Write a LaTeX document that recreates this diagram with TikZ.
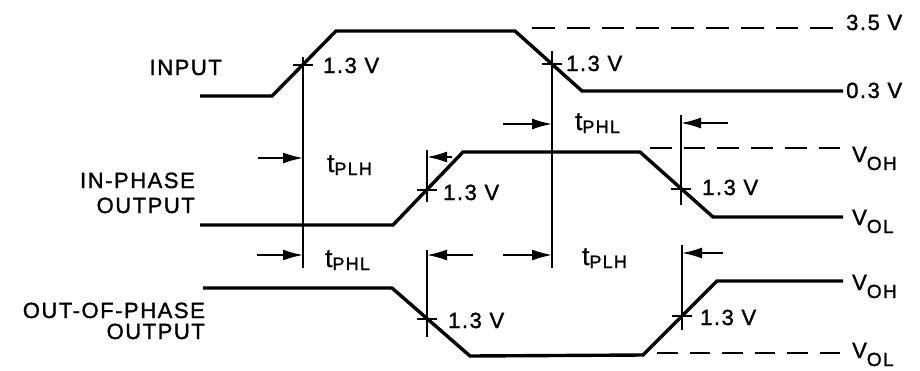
\documentclass[tikz,border=0pt]{standalone}
\usepackage{fontspec}
\setmainfont{Liberation Sans}[LetterSpace=7, FakeBold=1.4]
\usetikzlibrary{arrows.meta}

\newcommand{\tsub}[1]{{\fontsize{26}{26}\selectfont t}\raisebox{-3pt}{\fontsize{18}{18}\selectfont #1}}
\newcommand{\vsub}[1]{V\raisebox{-8pt}{\fontsize{19}{19}\selectfont #1}}

\begin{document}
\begin{tikzpicture}[x=1pt, y=-1pt, font=\fontsize{22}{24}\selectfont, >=Latex,
        wave/.style={line width=3.4pt},
        refl/.style={line width=1.6pt},
        dim/.style={-{Latex[length=20pt,width=11pt]}, line width=1.8pt},
        lvl/.style={line width=1.6pt, dash pattern=on #1 off 12pt},
        lab/.style={inner sep=0pt, anchor=base west},
        sig/.style={inner sep=0pt, anchor=base east}]
        \useasboundingbox (0,0) rectangle (920,370);
        % waveforms
        \draw[wave] (200,96) -- (272,96) -- (336,31) -- (515,31) -- (582,91) -- (843,91);
        \draw[wave] (200,225) -- (393,225) -- (463,152) -- (640,152) -- (713,217) -- (843,217);
        \draw[wave] (203,288) -- (392,288) -- (470,356) -- (643,355) -- (717,281) -- (843,281);
        % reference levels
        \draw[lvl=22.8pt] (532,28) -- (833,28);
        \draw[lvl=21.7pt] (650,148) -- (840,148);
        \draw[lvl=20.5pt] (657,353) -- (840,353);
        % 1.3 V crossings
        \coordinate (ir) at (303,65);
        \coordinate (if) at (552,64);
        \coordinate (pr) at (427,190);
        \coordinate (pf) at (681,189);
        \coordinate (of) at (427,319);
        \coordinate (or) at (682,316);
        \foreach \c in {ir,if,pr,pf,of,or} \draw[refl] ([xshift=-10pt]\c) -- ([xshift=10pt]\c);
        \foreach \c/\t/\b in {ir/57/268, if/51/268, pr/150/202, pf/115/205, of/250/337, or/245/330}
            \draw[refl] (\c |- 0,\t) -- (\c |- 0,\b);
        % delay arrows
        \coordinate (a1) at (258,158);
        \coordinate (a2) at (452,157);
        \coordinate (a3) at (503,124);
        \coordinate (a4) at (728,123);
        \coordinate (a5) at (257,255);
        \coordinate (a6) at (473,255);
        \coordinate (a7) at (503,255);
        \coordinate (a8) at (723,253);
        \draw[dim] (a1) -- (a1 -| ir);
        \draw[dim] (a2) -- (a2 -| pr);
        \draw[dim] (a3) -- (a3 -| if);
        \draw[dim] (a4) -- (a4 -| pf);
        \draw[dim] (a5) -- (a5 -| ir);
        \draw[dim] (a6) -- (a6 -| of);
        \draw[dim] (a7) -- (a7 -| if);
        \draw[dim] (a8) -- (a8 -| or);
        \node[lab] (tplh1) at (327,172) {\tsub{PLH}};
        \node[lab] (tphl1) at (575,130) {\tsub{PHL}};
        \node[lab] (tphl2) at (325,267) {\tsub{PHL}};
        \node[lab] (tplh2) at (582,265) {\tsub{PLH}};
        % voltage labels
        \node[lab] (vir) at (323,73)  {1.3 V};
        \node[lab] (vif) at (566,71)  {1.3 V};
        \node[lab] (vpr) at (443,200) {1.3 V};
        \node[lab] (vpf) at (702,195) {1.3 V};
        \node[lab] (vof) at (448,328) {1.3 V};
        \node[lab] (vor) at (700,325) {1.3 V};
        \node[lab] (hi)  at (846,30)  {3.5 V};
        \node[lab] (lo)  at (846,98)  {0.3 V};
        \node[lab] (voh1) at (852,162) {\vsub{OH}};
        \node[lab] (vol1) at (852,225) {\vsub{OL}};
        \node[lab] (voh2) at (852,290) {\vsub{OH}};
        \node[lab] (vol2) at (852,358) {\vsub{OL}};
        % signal names
        \node[sig] (in)   at (222,75)  {INPUT};
        \node[sig] (ip1)  at (195,188) {IN-PHASE};
        \node[sig] (ip2)  at (195,213) {OUTPUT};
        \node[sig] (op1)  at (205,318) {OUT-OF-PHASE};
        \node[sig] (op2)  at (205,339) {OUTPUT};
\end{tikzpicture}
\end{document}
